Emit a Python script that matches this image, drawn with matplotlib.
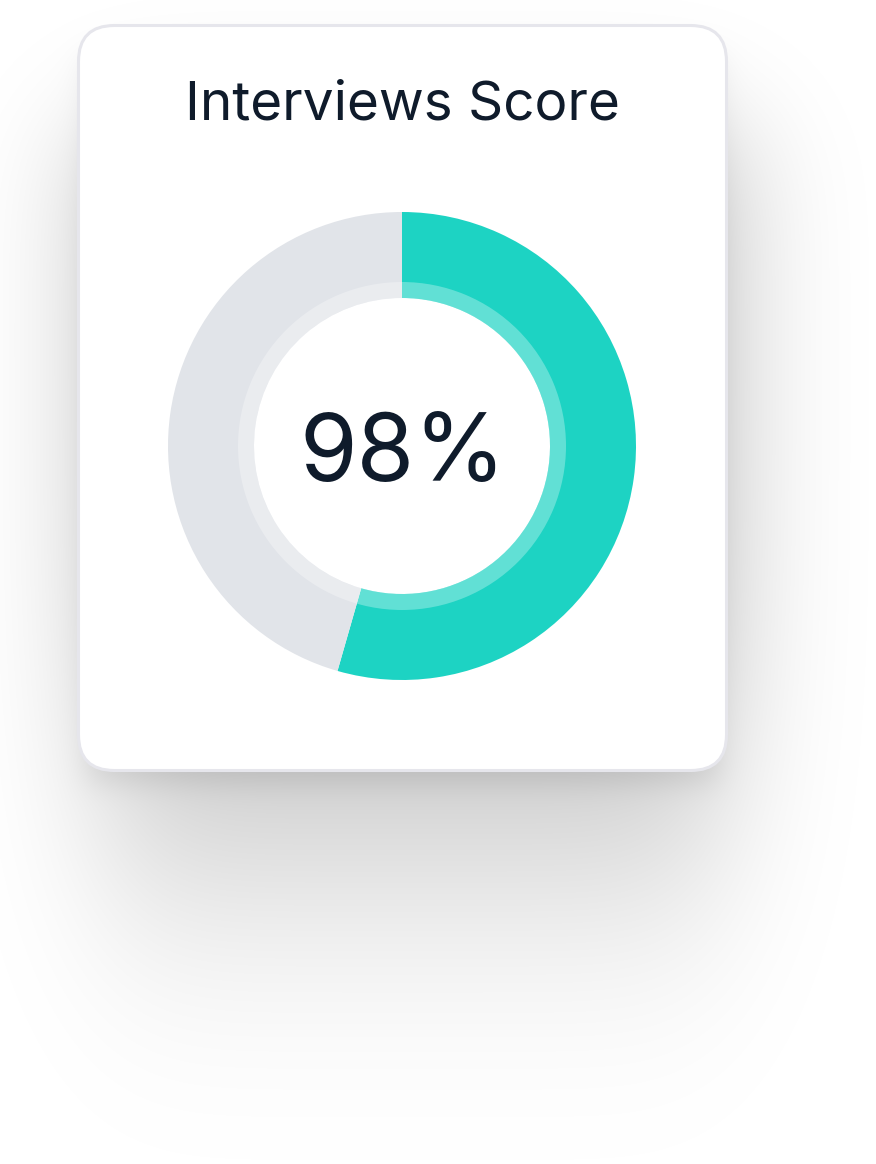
"""Interviews score card: single donut gauge on a rounded card with a soft drop shadow."""
import math

import numpy as np
import matplotlib
matplotlib.use("Agg")
import matplotlib.pyplot as plt
from matplotlib.patches import FancyBboxPatch, Wedge

# data
title = "Interviews Score"
score_label = "98%"
slice_names = ["score", "rest"]
slice_values = [98, 82]
slice_colors = ["#1DD3C3", "#E1E4E9"]

W, H = 876, 1164
fig = plt.figure(figsize=(W / 100, H / 100), dpi=100, facecolor="white")
ax = fig.add_axes([0, 0, 1, 1])
ax.set_xlim(0, W); ax.set_ylim(H, 0); ax.axis("off")

# card geometry (pixels, border centre line)
cx0, cy0, cx1, cy1, rad = 78.5, 25.5, 726.5, 770.5, 36

def blurred_box(lo, hi, s_lo, s_hi, n):
    t = np.arange(n) + 0.5
    f = np.vectorize(math.erf)
    return 0.5 * (f((t - lo) / (s_lo * 1.4142)) - f((t - hi) / (s_hi * 1.4142)))

# soft drop shadow: wide blurred box shifted down + tight one under the card
alpha = 0.28 * np.outer(blurred_box(cy0 + 100, cy1 + 60, 60, 150, H),
                        blurred_box(cx0 + 20, cx1, 65, 65, W))
alpha += 0.08 * np.outer(blurred_box(cy0 + 30, cy1 + 12, 14, 14, H),
                         blurred_box(cx0 + 8, cx1 - 8, 14, 14, W))
shadow = np.zeros((H, W, 4))
shadow[..., 3] = np.clip(alpha, 0, 1)
ax.imshow(shadow, extent=[0, W, H, 0], interpolation="bilinear", zorder=1)

card = FancyBboxPatch((cx0 + rad, cy0 + rad), (cx1 - cx0) - 2 * rad, (cy1 - cy0) - 2 * rad,
                      boxstyle=f"round,pad={rad}", fc="white", ec="#E6E6EC", lw=2.2, zorder=2)
ax.add_patch(card)
ax.text(402, 120, title, ha="center", va="baseline", fontsize=39.5, color="#0F1B2B",
        family="Inter", zorder=3)

# donut in its own axes so pie keeps its natural orientation
ccx, ccy, R = 402, 446, 234
dax = fig.add_axes([(ccx - R) / W, (H - ccy - R) / H, 2 * R / W, 2 * R / H])
dax.pie(slice_values, colors=slice_colors, startangle=90, counterclock=False, radius=1,
        wedgeprops=dict(width=(R - 148) / R, linewidth=0))
dax.add_patch(Wedge((0, 0), 164 / R, 0, 360, width=16 / R, fc="white", alpha=0.3, lw=0))
dax.set_xlim(-1, 1); dax.set_ylim(-1, 1); dax.set_aspect("equal"); dax.axis("off")
dax.text(402.5, 481, score_label, ha="center", va="baseline", fontsize=67, color="#0F1B2B",
         family="Inter", transform=ax.transData)

fig.savefig("out.png", dpi=100, facecolor="white")
